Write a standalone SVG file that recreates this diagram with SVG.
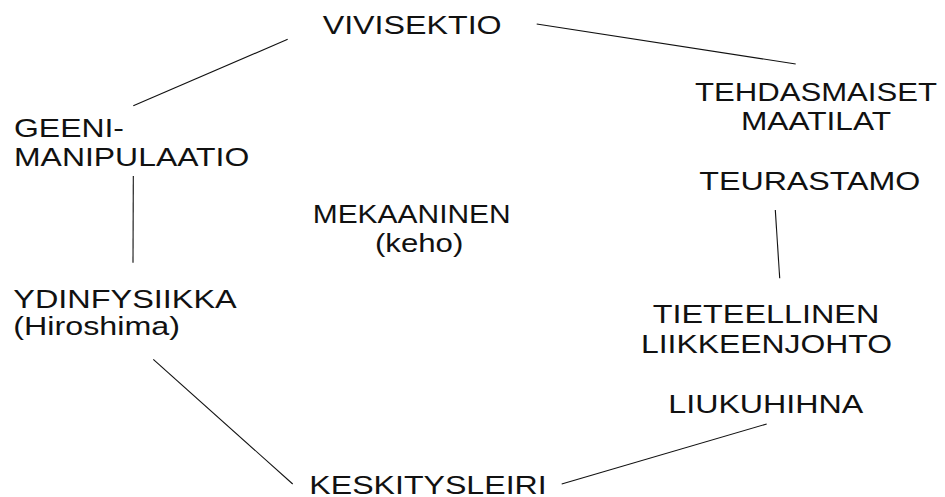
<svg xmlns="http://www.w3.org/2000/svg" width="945" height="497" viewBox="0 0 945 497">
  <style>
    .lbl { font-family: "Liberation Sans", Arial, sans-serif; font-size: 25px; fill: #111; }
    .link { stroke: #111; stroke-width: 1.1; fill: none; }
  </style>
  <rect width="945" height="497" fill="#fff"/>

  <!-- connectors -->
  <g id="connectors">
    <line class="link" x1="287.7" y1="39.3" x2="133.3" y2="105.7"/>
    <line class="link" x1="536.7" y1="24" x2="795.7" y2="64"/>
    <line class="link" x1="133.3" y1="176" x2="133" y2="262.7"/>
    <line class="link" x1="775.3" y1="210" x2="779.7" y2="278.3"/>
    <line class="link" x1="153.3" y1="359.3" x2="292.7" y2="484"/>
    <line class="link" x1="561.7" y1="484" x2="766.7" y2="424"/>
  </g>

  <g id="vivisektio">
    <text class="lbl" x="322.7" y="34" textLength="179" lengthAdjust="spacingAndGlyphs">VIVISEKTIO</text>
  </g>

  <g id="tehdasmaiset-maatilat">
    <text class="lbl" x="695" y="101" textLength="242" lengthAdjust="spacingAndGlyphs">TEHDASMAISET</text>
    <text class="lbl" x="741" y="130" textLength="150" lengthAdjust="spacingAndGlyphs">MAATILAT</text>
  </g>

  <g id="teurastamo">
    <text class="lbl" x="699.3" y="190" textLength="221" lengthAdjust="spacingAndGlyphs">TEURASTAMO</text>
  </g>

  <g id="tieteellinen-liikkeenjohto">
    <text class="lbl" x="652.7" y="323.3" textLength="226.6" lengthAdjust="spacingAndGlyphs">TIETEELLINEN</text>
    <text class="lbl" x="641" y="353" textLength="251" lengthAdjust="spacingAndGlyphs">LIIKKEENJOHTO</text>
  </g>

  <g id="liukuhihna">
    <text class="lbl" x="668.3" y="413.3" textLength="195" lengthAdjust="spacingAndGlyphs">LIUKUHIHNA</text>
  </g>

  <g id="keskitysleiri">
    <text class="lbl" x="309.3" y="493.6" textLength="237.4" lengthAdjust="spacingAndGlyphs">KESKITYSLEIRI</text>
  </g>

  <g id="ydinfysiikka">
    <text class="lbl" x="13.3" y="308.3" textLength="223.4" lengthAdjust="spacingAndGlyphs">YDINFYSIIKKA</text>
    <text class="lbl" x="13.3" y="335" textLength="166.7" lengthAdjust="spacingAndGlyphs">(Hiroshima)</text>
  </g>

  <g id="geenimanipulaatio">
    <text class="lbl" x="14" y="137" textLength="110" lengthAdjust="spacingAndGlyphs">GEENI-</text>
    <text class="lbl" x="14" y="166" textLength="235.3" lengthAdjust="spacingAndGlyphs">MANIPULAATIO</text>
  </g>

  <g id="mekaaninen">
    <text class="lbl" x="312.7" y="223.3" textLength="198" lengthAdjust="spacingAndGlyphs">MEKAANINEN</text>
    <text class="lbl" x="375" y="251.7" textLength="88.3" lengthAdjust="spacingAndGlyphs">(keho)</text>
  </g>
</svg>
